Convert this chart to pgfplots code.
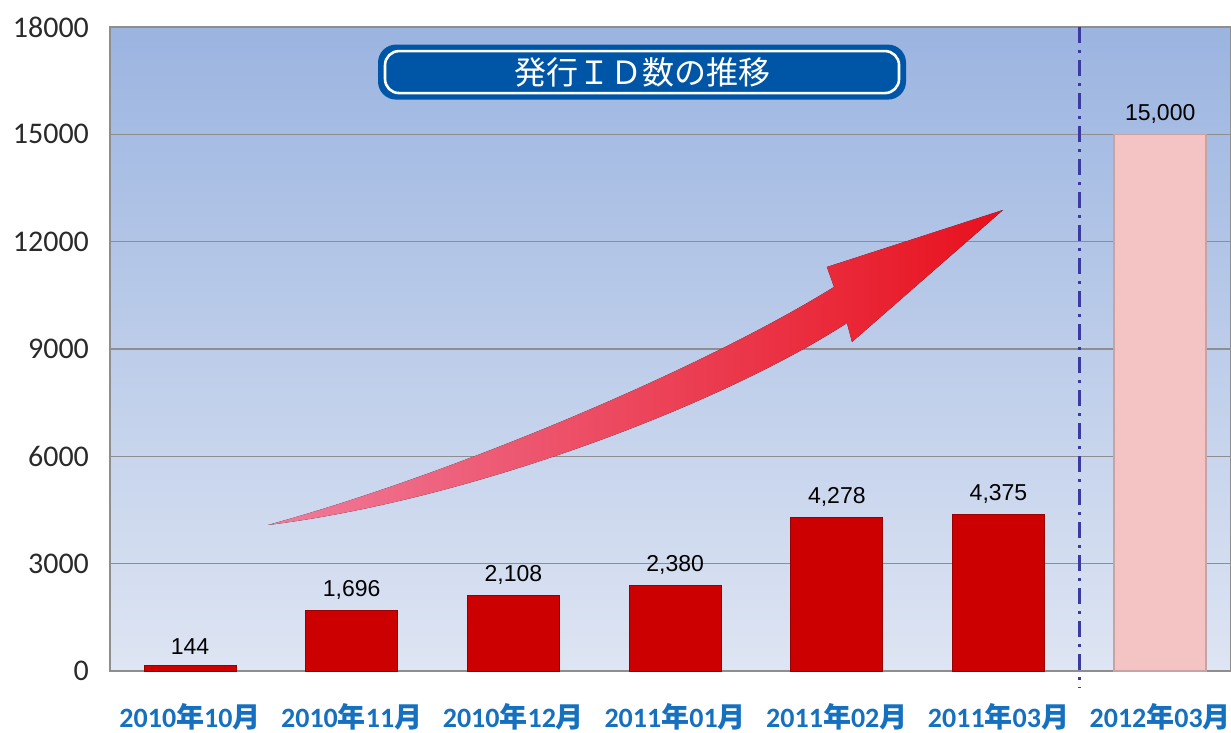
\documentclass[border=0pt]{standalone}
\usepackage{pgfplots}
\pgfplotsset{compat=1.18}
\usepackage{fontspec}
\setmainfont{Carlito}
\newfontfamily\cjk{Noto Sans CJK JP}
\newfontfamily\arialf{Liberation Sans}
\definecolor{barred}{HTML}{CC0000}
\definecolor{baredge}{HTML}{9A0000}
\definecolor{barpink}{HTML}{F4C4C4}
\definecolor{pinkedge}{HTML}{C9A3A3}
\definecolor{gridgray}{HTML}{8E8E8E}
\definecolor{bgtop}{HTML}{9BB4E0}
\definecolor{bgbot}{HTML}{DEE5F3}
\definecolor{tickc}{HTML}{2A2A2A}
\definecolor{xlab}{HTML}{1670C0}
\definecolor{dashc}{HTML}{3A3AA0}
\definecolor{titleblue}{HTML}{0056A6}
\definecolor{arrowpink}{HTML}{F07C9C}
\definecolor{arrowred}{HTML}{E8101C}
\begin{document}
\begin{tikzpicture}
\begin{axis}[
  scale only axis, width=560.5pt, height=322pt,
  xmin=-0.495, xmax=6.438, ymin=0, ymax=18000,
  ytick={0,3000,6000,9000,12000,15000,18000},
  xtick={0,1,2,3,4,5,6},
  xticklabels={2010{\cjk 年}10{\cjk 月},2010{\cjk 年}11{\cjk 月},2010{\cjk 年}12{\cjk 月},2011{\cjk 年}01{\cjk 月},2011{\cjk 年}02{\cjk 月},2011{\cjk 年}03{\cjk 月},2012{\cjk 年}03{\cjk 月}},
  ymajorgrids, grid style={color=gridgray, line width=0.7pt},
  axis line style={color=gridgray, line width=0.7pt},
  tick style={draw=none},
  /pgf/number format/assume math mode=true,
  scaled y ticks=false,
  yticklabel style={/pgf/number format/1000 sep={}, font=\fontsize{15}{18}\selectfont, color=tickc, xshift=-7pt},
  xticklabel style={font=\bfseries\fontsize{14}{17}\selectfont, color=xlab, inner sep=0pt, anchor=north, yshift=-12pt},
  ybar, bar width=46pt, bar shift=0pt,
  axis background/.style={top color=bgtop, bottom color=bgbot},
  clip=false,
  nodes near coords={\pgfmathprintnumber[1000 sep={,}]{\pgfplotspointmeta}},
  every node near coord/.append style={font=\arialf\fontsize{11.5}{13}\selectfont, color=black, yshift=2pt},
]
\addplot[fill=barred, draw=baredge, line width=0.5pt] coordinates {(0,144) (1,1696) (2,2108) (3,2380) (4,4278) (5,4375)};
\addplot[fill=barpink, draw=pinkedge, line width=0.7pt] coordinates {(6,15000)};
% dash-dot separator
\draw[color=dashc, line width=1.5pt, dash pattern=on 8pt off 3.5pt on 1.5pt off 3.5pt] (axis cs:5.5,18000) -- (axis cs:5.5,-475);
% curved arrow
\fill[left color=arrowpink, right color=arrowred]
  (axis cs:0.482,4081) .. controls (axis cs:1.608,5478) and (axis cs:3.154,8413) .. (axis cs:3.983,10733)
  -- (axis cs:3.939,11292) -- (axis cs:5.028,12885) -- (axis cs:4.094,9196) -- (axis cs:4.063,9727)
  .. controls (axis cs:3.278,7435) and (axis cs:1.732,4779) .. (axis cs:0.482,4081) -- cycle;
% title box
\node[fill=titleblue, rounded corners=9pt, minimum width=264pt, minimum height=27.5pt, inner sep=0pt] at (rel axis cs:0.4746,0.930) {};
\node[fill=titleblue, draw=white, line width=1.3pt, rounded corners=7pt, minimum width=257pt, minimum height=21pt, inner sep=0pt, text=white, font=\cjk\fontsize{16}{18}\selectfont] at (rel axis cs:0.4746,0.930) {発行ＩＤ数の推移};
\end{axis}
\pgfresetboundingbox
\path ([xshift=-55pt,yshift=-31pt]current axis.south west) rectangle ([yshift=13.5pt]current axis.north east);
\end{tikzpicture}
\end{document}
